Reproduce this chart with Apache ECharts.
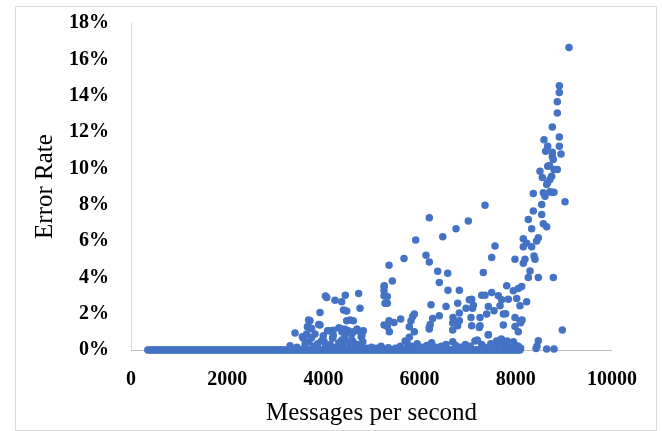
<!DOCTYPE html>
<html>
<head>
<meta charset="utf-8">
<script src="https://cdn.jsdelivr.net/npm/echarts@6/dist/echarts.min.js"></script>
<style>html,body{margin:0;padding:0;background:#fff;}#c{width:662px;height:431px;}</style>
</head>
<body>
<div id="c"></div>
<script>
// Tick labels
var xTicks = [0, 2000, 4000, 6000, 8000, 10000];
var yTicks = [0, 2, 4, 6, 8, 10, 12, 14, 16, 18];

// Points sitting on 0% (messages per second)
var zeroX = [350, 415, 490, 555, 630, 700, 765, 840, 905, 980, 1050, 1115, 1190, 1255, 1330, 1400, 1465, 1540, 1610, 1675, 1750, 1820, 1885, 1960, 2030, 2095, 2170, 2240, 2305, 2380, 2450, 2515, 2590, 2660, 2725, 2800, 2870, 2935, 3010, 3080, 3145, 3220, 3290,
  3360, 3430, 3505, 3570, 3640, 3715, 3780, 3850, 3925, 3990, 4060, 4135, 4200, 4270, 4345, 4410, 4480, 4555, 4620, 4690, 4765, 4830, 4900, 4975, 5040, 5110, 5185, 5250, 5320, 5395, 5460, 5530, 5605, 5670, 5740, 5815, 5880, 5950, 6025, 6090, 6160, 6235, 6300, 6370, 6445, 6510, 6580, 6655, 6720, 6790, 6865, 6930, 7000, 7075, 7140, 7210, 7285, 7350, 7420, 7495, 7560, 7630, 7705, 7770, 7840, 7915, 7980, 8050];
var zeroX2 = [385, 452, 520, 593, 665, 733, 802, 872, 943, 1015, 1083, 1152, 1222, 1293, 1365, 1432, 1502, 1575, 1643, 1712, 1785, 1852, 1923, 1995, 2062, 2133, 2205, 2272, 2343, 2415, 2482, 2553, 2625, 2692, 2763, 2835, 2902, 2973, 3045, 3112, 3183, 3255, 3325,
  3395, 3467, 3538, 3605, 3677, 3748, 3815, 3887, 3958, 4025, 4097, 4168, 4235, 4307, 4378, 4445, 4517, 4588, 4655, 4727, 4797, 4865, 4937, 5008, 5075, 5147, 5218, 5285, 5357, 5428, 5495, 5567, 5638, 5705, 5777, 5848, 5915, 5987, 6058, 6125, 6197, 6268, 6335, 6407, 6478, 6545, 6617, 6688, 6755, 6827, 6898, 6965, 7037, 7108, 7175, 7247, 7318, 7385, 7457, 7528, 7595, 7667, 7738, 7805, 7877, 7948, 8015, 8085];

// Low error points near the baseline
var lowX = [3306, 3450, 3582, 3620, 3700, 3800, 3880, 3964, 4050, 4140, 4250, 4320, 4400, 4505, 4560, 4622, 4700, 4780, 4819, 4900, 5000, 5100, 5200, 5350, 5500, 5600, 5700, 5760, 5786, 5850, 5950, 6050, 6150, 6250, 6330, 6450, 6550, 6688, 6750, 6850, 6950, 7050, 7150, 7200, 7290, 7350, 7429, 7480, 7550, 7600, 7650, 7700, 7760, 7820, 7880, 7950, 8000, 8052, 8100, 8420, 8440, 8468, 8642, 8794];
var lowY = [0.24, 0.15, 0.64, 0.30, 0.45, 0.20, 0.35, 0.51, 0.20, 0.30, 0.15, 0.40, 0.25, 0.46, 0.20, 0.42, 0.30, 0.15, 0.46, 0.10, 0.15, 0.10, 0.20, 0.12, 0.10, 0.20, 0.50, 0.30, 0.70, 0.20, 0.35, 0.15, 0.25, 0.40, 0.15, 0.20, 0.30, 0.46, 0.25, 0.15, 0.30, 0.20, 0.50, 0.55, 0.30, 0.15, 0.84, 0.35, 0.25, 0.50, 0.40, 0.60, 0.30, 0.50, 0.35, 0.45, 0.25, 0.20, 0.10, 0.08, 0.20, 0.51, 0.05, 0.05];

// 3300 - 4900 msg/s group
var grpAX = [3410, 3686, 3755, 3721, 3652, 3825, 3929, 3929, 3998, 4069, 4042, 4123, 4206, 4206, 4241, 4380, 4380, 4456, 4449, 4484, 4484, 4519, 4588, 4622, 4733, 4761, 4726, 4830, 4800, 3562, 3754, 4016, 4191, 4383, 4592, 4784, 4418, 4557, 3902, 4086, 4322, 4453, 4697, 4627, 4383, 3693, 3667];
var grpAY = [0.93, 1.28, 1.19, 1.61, 0.88, 0.88, 2.07, 1.37, 0.79, 2.89, 2.97, 1.06, 1.09, 0.80, 2.74, 2.65, 1.15, 3.02, 0.79, 2.14, 1.61, 1.06, 0.88, 1.61, 3.11, 2.30, 1.06, 1.06, 0.80, 0.73, 0.68, 0.46, 0.64, 0.55, 0.55, 0.73, 2.20, 1.65, 1.41, 1.06, 1.23, 1.14, 1.16, 1.01, 1.01, 1.65, 1.28];

// 5000 - 7100 msg/s group
var grpBX = [6202, 7013, 6757, 6481, 5919, 6133, 6202, 5676, 5364, 6376, 6584, 5433, 6410, 5260, 5260, 5267, 5260, 5329, 5281, 5329, 6590, 6826, 7033, 7117, 6792, 6237, 6549, 6965, 6826, 6694, 7069, 6410, 6272, 5890, 5856, 5607, 5364, 5468, 5260, 5329, 5371, 5821, 5786, 5890, 6202, 6202, 6220, 6688, 6826, 6792, 6688, 7083, 7083, 7100, 7241];
var grpBY = [7.28, 7.10, 6.68, 6.24, 6.06, 5.21, 4.85, 5.03, 4.66, 4.34, 4.23, 3.80, 3.71, 3.49, 3.27, 3.53, 2.98, 2.95, 2.58, 2.58, 3.29, 3.29, 2.76, 2.47, 2.58, 2.49, 2.40, 2.30, 2.03, 1.79, 1.79, 1.88, 1.74, 1.98, 1.85, 1.70, 1.61, 1.52, 1.37, 1.30, 1.00, 1.61, 1.28, 1.00, 1.24, 1.15, 1.40, 1.48, 1.61, 1.34, 1.10, 1.34, 2.80, 2.30, 1.24];

// 7100 - 8400 msg/s group
var grpCX = [8364, 7360, 8364, 8260, 8330, 8156, 8226, 8156, 8330, 7568, 7499, 7983, 8191, 8156, 8295, 8260, 7325, 7811, 7948, 8052, 8122, 7291, 7360, 7499, 7637, 7706, 7845, 8018, 8226, 7429, 7672, 8087, 7547, 7741, 7790, 7983, 8087, 8130, 7256, 7395, 7741, 7983, 7256, 8100, 7429, 8052];
var grpCY = [8.62, 7.97, 7.65, 7.19, 6.68, 6.13, 5.87, 5.69, 5.69, 5.72, 5.09, 4.99, 4.99, 4.77, 4.35, 3.99, 4.26, 3.53, 3.26, 3.39, 3.50, 3.02, 3.02, 3.16, 2.98, 2.76, 2.80, 2.84, 2.65, 2.40, 2.43, 2.43, 2.16, 1.98, 2.00, 1.79, 1.61, 1.65, 1.79, 1.98, 1.37, 1.30, 1.34, 1.50, 0.84, 1.00];

// 8300 - 9100 msg/s group
var grpDX = [9106, 8905, 8905, 8863, 8863, 8759, 8586, 8905, 8663, 8905, 8621, 8759, 8940, 8759, 8780, 8663, 8700, 8863, 8794, 8503, 8551, 8745, 8710, 8642, 8660, 8572, 8710, 8794, 8746, 8607, 9023, 8538, 8538, 8572, 8642, 8468, 8433, 8378, 8399, 8468, 8780, 8967];
var grpDY = [16.65, 14.54, 14.18, 13.66, 13.04, 12.28, 11.58, 11.73, 11.21, 11.21, 10.94, 10.88, 10.79, 10.65, 10.48, 10.11, 10.15, 9.93, 9.93, 9.84, 9.49, 9.57, 9.39, 9.11, 9.20, 8.65, 8.71, 8.69, 8.69, 8.47, 8.16, 8.01, 7.46, 6.95, 6.79, 6.18, 6.00, 5.18, 4.99, 3.99, 3.99, 1.10];

function zip(xs, ys) {
  var out = [];
  for (var i = 0; i < xs.length; i++) out.push([xs[i], ys ? ys[i] : 0]);
  return out;
}
var data = [].concat(zip(zeroX, null), zip(zeroX2, null), zip(lowX, lowY), zip(grpAX, grpAY), zip(grpBX, grpBY), zip(grpCX, grpCY), zip(grpDX, grpDY));

var serif = '"Liberation Serif", "Times New Roman", serif';
var chart = echarts.init(document.getElementById('c'), null, {renderer: 'canvas'});
chart.setOption({
  animation: false,
  backgroundColor: '#ffffff',
  graphic: [{
    type: 'rect', left: 13, top: 4, shape: {x: 0, y: 0, width: 641, height: 424},
    style: {fill: 'none', stroke: '#d9d9d9', lineWidth: 1}, silent: true
  }],
  grid: {left: 131, right: 50, top: 23, bottom: 80, containLabel: false},
  xAxis: {
    type: 'value', min: xTicks[0], max: xTicks[xTicks.length - 1], interval: 2000,
    name: 'Messages per second', nameLocation: 'middle', nameGap: 51,
    nameTextStyle: {fontFamily: serif, fontSize: 25, color: '#000'},
    axisLine: {show: true, lineStyle: {color: '#bfbfbf', width: 1}},
    axisTick: {show: false},
    splitLine: {show: false},
    axisLabel: {fontFamily: serif, fontWeight: 'bold', fontSize: 20, color: '#000', margin: 20,
      formatter: function (v) { return String(v); }}
  },
  yAxis: {
    type: 'value', min: yTicks[0], max: yTicks[yTicks.length - 1], interval: 2,
    name: 'Error Rate', nameLocation: 'middle', nameGap: 72,
    nameTextStyle: {fontFamily: serif, fontSize: 25, color: '#000'},
    axisLine: {show: true, lineStyle: {color: '#d9d9d9', width: 1}},
    axisTick: {show: false},
    splitLine: {show: false},
    axisLabel: {fontFamily: serif, fontWeight: 'bold', fontSize: 20, color: '#000', margin: 22,
      formatter: function (v) { return v + '%'; }}
  },
  series: [{
    type: 'scatter', data: data, symbol: 'circle', symbolSize: 7.5,
    itemStyle: {color: '#4472C4', opacity: 1}
  }]
});
</script>
</body>
</html>
